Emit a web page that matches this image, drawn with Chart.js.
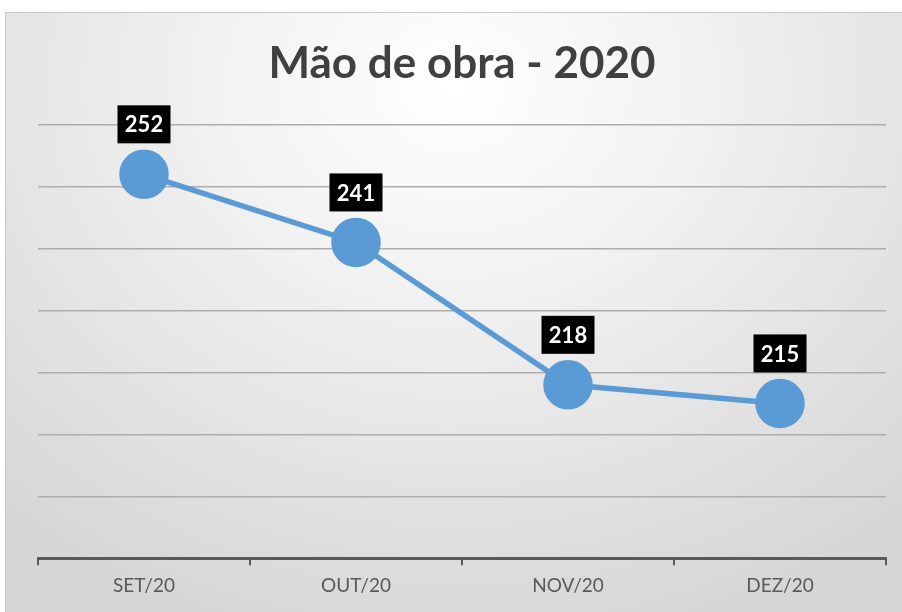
<!DOCTYPE html>
<html>
<head>
<meta charset="utf-8">
<script src="https://cdn.jsdelivr.net/npm/chart.js@4.4.1/dist/chart.umd.min.js"></script>
<style>
  html, body { margin: 0; padding: 0; background: #ffffff; }
  #wrap {
    position: absolute; left: 5px; top: 12px; width: 896px; height: 599px;
    border: 1px solid #c8c8c8;
    background: radial-gradient(ellipse 75% 95% at 50% 12%, #ffffff 0%, #f2f2f2 35%, #d6d6d6 100%);
  }
  canvas { display: block; }
</style>
</head>
<body>
<div id="wrap"><canvas id="chart" width="896" height="599"></canvas></div>
<script>
const months = ["SET/20", "OUT/20", "NOV/20", "DEZ/20"];
const maoDeObra = [252, 241, 218, 215];
const yMin = 190;
const yMax = 260;
const yStep = 10;

// caixas pretas com os valores acima dos pontos
const valueBoxes = {
    id: "valueBoxes",
    afterDatasetsDraw(chart) {
        const ctx = chart.ctx;
        const meta = chart.getDatasetMeta(0);
        ctx.save();
        ctx.font = "bold 22px Lato, 'Liberation Sans', sans-serif";
        ctx.textAlign = "center";
        ctx.textBaseline = "middle";
        meta.data.forEach((pt, i) => {
            const w = 53, h = 38;
            const bottom = pt.y - 31;
            ctx.fillStyle = "#000000";
            ctx.fillRect(pt.x - w / 2, bottom - h, w, h);
            ctx.fillStyle = "#ffffff";
            ctx.fillText(String(maoDeObra[i]), pt.x, bottom - h / 2 + 1);
        });
        ctx.restore();
    }
};

new Chart(document.getElementById("chart").getContext("2d"), {
    type: "line",
    data: {
        labels: months,
        datasets: [{
            label: "Mão de obra",
            data: maoDeObra,
            borderColor: "#5b9bd5",
            backgroundColor: "#5b9bd5",
            borderWidth: 5.5,
            pointRadius: 22,
            pointHoverRadius: 22,
            pointBackgroundColor: "#5b9bd5",
            pointBorderColor: "#5b9bd5",
            tension: 0
        }]
    },
    options: {
        responsive: false,
        animation: false,
        layout: { autoPadding: false, padding: { left: 32, right: 16, top: 0, bottom: 6 } },
        scales: {
            x: {
                offset: true,
                grid: {
                    offset: true,
                    drawOnChartArea: false,
                    drawTicks: true,
                    tickLength: 7,
                    color: "#595959",
                    lineWidth: 2
                },
                border: { display: true, color: "#595959", width: 3 },
                ticks: {
                    color: "#595959",
                    font: { family: "Lato, 'Liberation Sans', sans-serif", size: 19 },
                    padding: 9
                }
            },
            y: {
                min: yMin,
                max: yMax,
                ticks: { display: false, stepSize: yStep },
                grid: { color: "#adadad", lineWidth: 1.5, drawTicks: false },
                border: { display: false }
            }
        },
        plugins: {
            legend: { display: false },
            tooltip: { enabled: false },
            title: {
                display: true,
                text: "Mão de obra - 2020",
                color: "#404040",
                font: { family: "Lato, 'Liberation Sans', sans-serif", size: 44, weight: "bold" },
                padding: { top: 24, bottom: 35 }
            }
        }
    },
    plugins: [valueBoxes]
});
</script>
</body>
</html>
